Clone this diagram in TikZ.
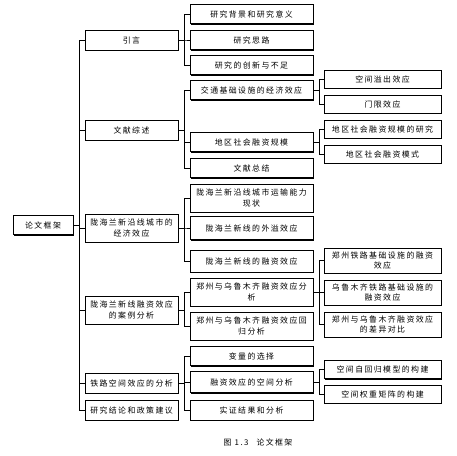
\documentclass[tikz,border=0pt]{standalone}
\usepackage{fontspec}
\setmainfont{Noto Sans CJK SC}[LetterSpace=18]
\usetikzlibrary{shadows}
\begin{document}
\begin{tikzpicture}[x=1pt,y=-1pt,
  bx/.style={draw=black, line width=0.9pt, fill=white, inner sep=0pt, align=center,
    font=\fontsize{7.9pt}{10.8pt}\selectfont,
    drop shadow={shadow xshift=1.3pt, shadow yshift=-1.3pt, fill=black, opacity=1}},
  lz/.style={bx, minimum width=60pt, minimum height=19pt},
  la/.style={bx, minimum width=93pt, minimum height=20pt},
  lb/.style={bx, minimum width=123pt, minimum height=19pt},
  lc/.style={bx, minimum width=117pt, minimum height=18pt},
  tall/.style={minimum height=28pt},
  con/.style={draw=black, line width=0.9pt}]
\useasboundingbox (0,0) rectangle (457,455);
% level 0
\node[lz] (root) at (43,225) {论文框架};
% level 1
\node[la] (a1) at (131.5,40) {引言};
\node[la] (a2) at (131.5,130) {文献综述};
\node[la,tall] (a3) at (131.5,228) {陇海兰新沿线城市的\\经济效应};
\node[la,tall] (a4) at (131.5,310) {陇海兰新线融资效应\\的案例分析};
\node[la] (a5) at (131.5,383) {铁路空间效应的分析};
\node[la] (a6) at (131.5,410) {研究结论和政策建议};
% level 2
\node[lb] (b1) at (251.5,14) {研究背景和研究意义};
\node[lb] (b2) at (251.5,40) {研究思路};
\node[lb] (b3) at (251.5,65) {研究的创新与不足};
\node[lb] (b4) at (251.5,90) {交通基础设施的经济效应};
\node[lb] (b5) at (251.5,142) {地区社会融资规模};
\node[lb] (b6) at (251.5,168) {文献总结};
\node[lb,tall] (b7) at (251.5,198) {陇海兰新沿线城市运输能力\\现状};
\node[lb,minimum height=23pt] (b8) at (251.5,228) {陇海兰新线的外溢效应};
\node[lb,minimum height=22pt] (b9) at (251.5,261) {陇海兰新线的融资效应};
\node[lb,tall] (b10) at (251.5,292) {郑州与乌鲁木齐融资效应分\\析};
\node[lb,tall] (b11) at (251.5,326) {郑州与乌鲁木齐融资效应回\\归分析};
\node[lb] (b12) at (251.5,356) {变量的选择};
\node[lb,minimum height=21pt] (b13) at (251.5,382) {融资效应的空间分析};
\node[lb,minimum height=20pt] (b14) at (251.5,410) {实证结果和分析};
% level 3
\node[lc] (c1) at (382.5,79) {空间溢出效应};
\node[lc] (c2) at (382.5,104) {门限效应};
\node[lc] (c3) at (382.5,129) {地区社会融资规模的研究};
\node[lc] (c4) at (382.5,154) {地区社会融资模式};
\node[lc,minimum height=25pt] (c5) at (382.5,260.5) {郑州铁路基础设施的融资\\效应};
\node[lc,minimum height=25pt] (c6) at (382.5,292.5) {乌鲁木齐铁路基础设施的\\融资效应};
\node[lc,minimum height=25pt] (c7) at (382.5,324.5) {郑州与乌鲁木齐融资效应\\的差异对比};
\node[lc] (c8) at (382.5,369.5) {空间自回归模型的构建};
\node[lc] (c9) at (382.5,394) {空间权重矩阵的构建};
% caption
\node[font=\fontsize{7.9pt}{9pt}\selectfont] (cap) at (258,442) {图 1.3\hspace{8pt}论文框架};
% connectors
\foreach \c in {a1,a2,a3,a4,a5,a6} \draw[con] (root.east) -- ++(6,0) |- (\c.west);
\foreach \c in {b1,b2,b3} \draw[con] (a1.east) -- ++(6,0) |- (\c.west);
\foreach \c in {b4,b5,b6} \draw[con] (a2.east) -- ++(6,0) |- (\c.west);
\foreach \c in {b7,b8,b9} \draw[con] (a3.east) -- ++(6,0) |- (\c.west);
\foreach \c in {b10,b11} \draw[con] (a4.east) -- ++(6,0) |- (\c.west);
\foreach \c in {b12,b13,b14} \draw[con] (a5.east) -- ++(6,0) |- (\c.west);
\foreach \c in {c1,c2} \draw[con] (b4.east) -- ++(5.5,0) |- (\c.west);
\foreach \c in {c3,c4} \draw[con] (b5.east) -- ++(5.5,0) |- (\c.west);
\foreach \c in {c5,c6,c7} \draw[con] (b10.east) -- ++(5.5,0) |- (\c.west);
\foreach \c in {c8,c9} \draw[con] (b13.east) -- ++(5.5,0) |- (\c.west);
\end{tikzpicture}
\end{document}
